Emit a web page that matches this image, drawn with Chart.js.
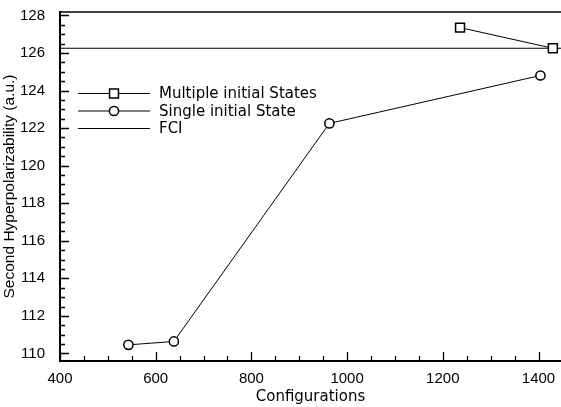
<!DOCTYPE html>
<html>
<head>
<meta charset="utf-8">
<script src="https://cdn.jsdelivr.net/npm/chart.js@4"></script>
<style>
html,body{margin:0;padding:0;background:#fff;overflow:hidden;}
#wrap{width:561px;height:407px;}
</style>
</head>
<body>
<div id="wrap"><canvas id="c" width="561" height="407"></canvas></div>
<script>
// ---- data ----
const multipleX = [1236, 1430];
const multipleY = [127.35, 126.25];
const singleX = [543, 638, 963, 1404];
const singleY = [110.46, 110.64, 122.25, 124.8];
const fciValue = 126.25;
const xTickValues = [400, 600, 800, 1000, 1200, 1400];
const yTickValues = [110, 112, 114, 116, 118, 120, 122, 124, 126, 128];
const seriesNames = ['Multiple initial States', 'Single initial State', 'FCI'];
const xTitle = 'Configurations';
const yTitle = 'Second Hyperpolarizability (a.u.)';

const xMin = 400, xMax = 1447;
const yMin = 109.6, yMax = 128.18;

const toPts = (xs, ys) => xs.map((x, i) => ({x: x, y: ys[i]}));

const tickFont = {family: '"Liberation Sans", Arial, sans-serif', size: 15};

const innerTicks = {
  id: 'innerTicks',
  afterDatasetsDraw(chart) {
    const ctx = chart.ctx, a = chart.chartArea;
    const xs = chart.scales.x, ys = chart.scales.y;
    ctx.save();
    ctx.strokeStyle = '#000';
    ctx.lineWidth = 1.3;
    ctx.beginPath();
    for (let v = xMin; v <= xMax; v += 50) {
      const p = Math.round(xs.getPixelForValue(v)) + 0.5;
      const len = (v % 200 === 0) ? 9 : 5;
      ctx.moveTo(p, a.bottom); ctx.lineTo(p, a.bottom - len);
    }
    for (let v = 110; v <= yMax; v += 0.5) {
      const p = Math.round(ys.getPixelForValue(v)) + 0.5;
      const len = (v % 2 === 0) ? 9 : 5;
      ctx.moveTo(a.left, p); ctx.lineTo(a.left + len, p);
    }
    ctx.stroke();
    ctx.lineWidth = 1.6;
    ctx.beginPath();
    ctx.moveTo(a.left, a.top); ctx.lineTo(a.right, a.top);
    ctx.stroke();
    ctx.restore();
  }
};

const legendPlugin = {
  id: 'customLegend',
  afterDraw(chart) {
    const ctx = chart.ctx;
    const rows = [93.5, 111, 128.5];
    const x0 = 78, x1 = 150, xm = 114, xt = 159;
    ctx.save();
    chart.data.datasets.forEach((ds, i) => {
      const y = rows[i];
      ctx.strokeStyle = '#000';
      ctx.lineWidth = 1;
      ctx.beginPath();
      ctx.moveTo(x0, y); ctx.lineTo(x1, y);
      ctx.stroke();
      if (ds.pointRadius > 0) {
        ctx.fillStyle = '#fff';
        ctx.strokeStyle = '#000';
        ctx.lineWidth = ds.pointBorderWidth;
        ctx.beginPath();
        if (ds.pointStyle === 'rect') {
          const s = Math.SQRT1_2 * ds.pointRadius;
          ctx.rect(xm - s, y - s, 2 * s, 2 * s);
        } else {
          ctx.arc(xm, y, ds.pointRadius, 0, Math.PI * 2);
        }
        ctx.fill(); ctx.stroke();
      }
      ctx.fillStyle = '#000';
      ctx.font = '15px "DejaVu Sans", sans-serif';
      ctx.textBaseline = 'middle';
      ctx.textAlign = 'left';
      ctx.fillText(ds.label, xt, y + 1);
    });
    ctx.restore();
  }
};

new Chart(document.getElementById('c'), {
  type: 'scatter',
  data: {
    datasets: [
      {
        label: seriesNames[0],
        data: toPts(multipleX, multipleY),
        showLine: true,
        borderColor: '#000', borderWidth: 1,
        pointStyle: 'rect', pointRadius: 6.3, pointBorderWidth: 1.5,
        pointBackgroundColor: '#fff', pointBorderColor: '#000', order: 0
      },
      {
        label: seriesNames[1],
        data: toPts(singleX, singleY),
        showLine: true,
        borderColor: '#000', borderWidth: 1,
        pointStyle: 'circle', pointRadius: 4.6, pointBorderWidth: 1.5,
        pointBackgroundColor: '#fff', pointBorderColor: '#000', order: 1
      },
      {
        label: seriesNames[2],
        data: [{x: xMin, y: fciValue}, {x: xMax, y: fciValue}],
        showLine: true,
        borderColor: '#000', borderWidth: 1,
        pointRadius: 0, pointHoverRadius: 0, order: 2
      }
    ]
  },
  options: {
    responsive: false,
    devicePixelRatio: 1,
    animation: false,
    events: [],
    layout: {autoPadding: false, padding: {top: 12, right: 0, left: 0, bottom: 0}},
    plugins: {legend: {display: false}, tooltip: {enabled: false}},
    scales: {
      x: {
        type: 'linear', min: xMin, max: xMax,
        afterBuildTicks: s => { s.ticks = xTickValues.map(v => ({value: v})); },
        afterFit: s => { s.height = 46; s.paddingLeft = 0; s.paddingRight = 0; },
        grid: {display: false},
        border: {display: true, color: '#000', width: 2},
        ticks: {color: '#000', font: tickFont, padding: 1, maxRotation: 0, autoSkip: false,
                callback: v => String(v)},
        title: {display: true, text: xTitle, color: '#000',
                font: {family: '"DejaVu Sans", sans-serif', size: 15}, padding: {top: 0, bottom: 1}}
      },
      y: {
        type: 'linear', min: yMin, max: yMax,
        afterBuildTicks: s => { s.ticks = yTickValues.map(v => ({value: v})); },
        afterFit: s => { s.width = 60; s.paddingTop = 0; s.paddingBottom = 0; },
        grid: {display: false},
        border: {display: true, color: '#000', width: 2},
        ticks: {color: '#000', font: tickFont, padding: 7, autoSkip: false,
                callback: v => String(v)},
        title: {display: true, text: yTitle, color: '#000',
                font: {family: '"Liberation Sans", Arial, sans-serif', size: 15.5}, padding: {top: 0, bottom: 0}}
      }
    }
  },
  plugins: [innerTicks, legendPlugin]
});
</script>
</body>
</html>
